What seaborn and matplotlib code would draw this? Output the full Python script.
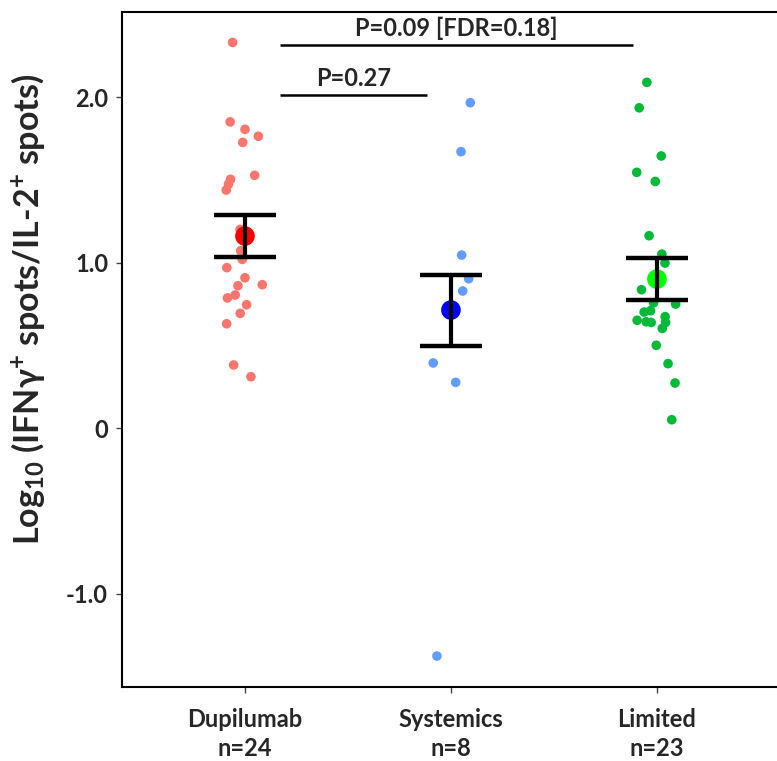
import matplotlib
matplotlib.use('Agg')
import matplotlib.pyplot as plt
import pandas as pd
import seaborn as sns

# Data
groups = ['Dupilumab', 'Systemics', 'Limited']
group_n = [24, 8, 23]

dupi_vals = [2.33, 1.85, 1.805, 1.763, 1.726, 1.527, 1.503, 1.474, 1.438, 1.20, 1.13,
             1.071, 1.019, 0.969, 0.908, 0.866, 0.860, 0.804, 0.786, 0.745, 0.693,
             0.630, 0.381, 0.310]
dupi_jit = [-0.06, -0.072, 0.0, 0.065, -0.011, 0.047, -0.07, -0.08, -0.091, -0.024, 0.0,
            -0.021, -0.013, -0.088, 0.0, 0.084, -0.034, -0.047, -0.085, 0.008, -0.023,
            -0.089, -0.055, 0.029]

syst_vals = [1.966, 1.670, 1.045, 0.902, 0.828, 0.393, 0.276, -1.378]
syst_jit = [0.094, 0.049, 0.052, 0.086, 0.057, -0.086, 0.023, -0.068]

lim_vals = [2.089, 1.935, 1.644, 1.545, 1.490, 1.162, 1.051, 0.997, 0.836, 0.757, 0.749,
            0.701, 0.709, 0.673, 0.651, 0.642, 0.638, 0.638, 0.602, 0.500, 0.389, 0.272,
            0.050]
lim_jit = [-0.049, -0.086, 0.021, -0.098, -0.008, -0.038, 0.024, 0.039, -0.075, -0.016,
           0.091, -0.062, -0.031, 0.040, -0.096, -0.052, -0.028, 0.042, 0.026, -0.003,
           0.054, 0.088, 0.072]

means = [1.160, 0.713, 0.900]
err_lo = [1.035, 0.497, 0.775]
err_hi = [1.285, 0.926, 1.027]

# comparisons: (group a, group b, label)
comparisons = [(0, 1, 'P=0.27'), (0, 2, 'P=0.09 [FDR=0.18]')]

point_colors = ['#F8766D', '#619CFF', '#00BA38']
mean_colors = ['#FF0000', '#0000FF', '#00FF00']

sns.set_style('white')
plt.rcParams['font.family'] = ['Lato', 'DejaVu Sans']
plt.rcParams['font.weight'] = 'bold'
plt.rcParams['mathtext.fontset'] = 'custom'
plt.rcParams['mathtext.rm'] = 'Lato:bold'
plt.rcParams['mathtext.bf'] = 'Lato:bold'
plt.rcParams['mathtext.it'] = 'Lato:bold'
plt.rcParams['mathtext.default'] = 'bf'

rows = []
for gi, (vals, jit) in enumerate([(dupi_vals, dupi_jit), (syst_vals, syst_jit), (lim_vals, lim_jit)]):
    for v, j in zip(vals, jit):
        rows.append({'group': groups[gi], 'x': gi + j, 'y': v})
df = pd.DataFrame(rows)

fig = plt.figure(figsize=(7.77, 7.61), dpi=100)
ax = fig.add_axes([122 / 777, 74 / 761, 655 / 777, 675 / 761])

sns.scatterplot(data=df, x='x', y='y', hue='group', palette=point_colors,
                s=48, edgecolor='none', legend=False, ax=ax, zorder=2)

mdf = pd.DataFrame({'group': groups, 'x': range(len(groups)), 'y': means})
sns.scatterplot(data=mdf, x='x', y='y', hue='group', palette=mean_colors,
                s=200, edgecolor='none', legend=False, ax=ax, zorder=3)

for i in range(len(groups)):
    ax.errorbar(i, means[i], yerr=[[means[i] - err_lo[i]], [err_hi[i] - means[i]]],
                fmt='none', ecolor='black', elinewidth=3, capsize=22, capthick=3.2, zorder=4)

# significance bars
bar_y = [2.012, 2.314]
for (a, b, lab), yb in zip(comparisons, bar_y):
    x0, x1 = a + 0.17, b - 0.115
    ax.plot([x0, x1], [yb, yb], color='black', lw=1.8, solid_capstyle='butt', zorder=4)
    ax.text((x0 + x1) / 2, yb + 0.03, lab, ha='center', va='bottom',
            fontsize=17, fontweight='bold')

ax.set_xlim(-0.597, 2.583)
ax.set_ylim(-1.565, 2.514)
ax.set_xticks(range(len(groups)))
ax.set_xticklabels([f'{g}\nn={n}' for g, n in zip(groups, group_n)],
                   fontsize=17, fontweight='bold', linespacing=1.3)
ax.set_yticks([-1.0, 0, 1.0, 2.0])
ax.set_yticklabels(['-1.0', '0', '1.0', '2.0'], fontsize=17, fontweight='bold')
ax.set_xlabel('')
ax.set_ylabel(r'Log$_{10}$ (IFN$\gamma^{+}$ spots/IL-2$^{+}$ spots)', fontsize=24.5,
              fontweight='bold')
ax.yaxis.set_label_coords(-0.114, 0.559)

for side in ['left', 'top', 'bottom']:
    ax.spines[side].set_color('black')
    ax.spines[side].set_linewidth(1.5)
ax.spines['right'].set_visible(False)
ax.tick_params(axis='both', direction='out', length=4, width=1, color='#444444',
               bottom=True, left=True, pad=6)
ax.tick_params(axis='x', pad=11)

fig.savefig('out.png', dpi=100)
